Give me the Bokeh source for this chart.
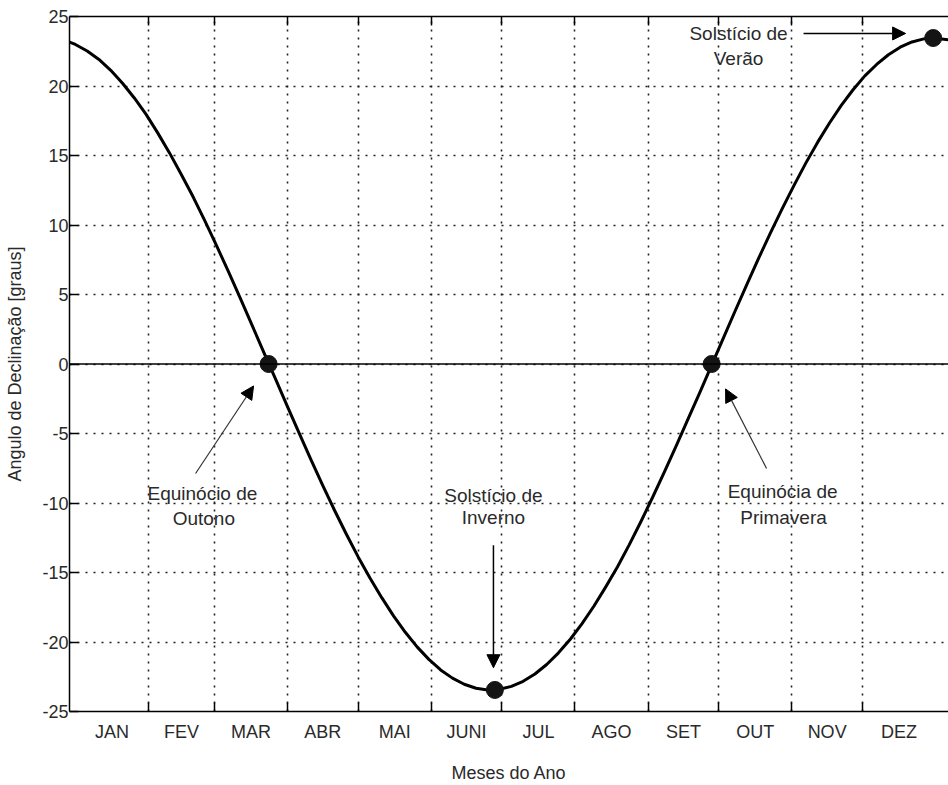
from bokeh.plotting import figure
from bokeh.models import FixedTicker, LinearAxis, Arrow, NormalHead, Span, Range1d
from bokeh.core.properties import value
from bokeh.embed import file_html
from bokeh.resources import INLINE

# ---------------- data ----------------
months = ["JAN", "FEV", "MAR", "ABR", "MAI", "JUNI", "JUL", "AGO", "SET", "OUT", "NOV", "DEZ"]
month_days = [31, 28, 31, 30, 31, 30, 31, 31, 30, 31, 30, 31]

# declination curve (day of year, degrees)
curve_day = [-2.5, 0, 5, 10, 15, 20, 25, 30, 35, 40, 45, 50, 55, 60, 65, 70, 75, 80, 85, 90,
             95, 100, 105, 110, 115, 120, 125, 130, 135, 140, 145, 150, 155, 160, 165, 170,
             175, 180, 185, 190, 195, 200, 205, 210, 215, 220, 225, 230, 235, 240, 245, 250,
             255, 260, 265, 270, 275, 280, 285, 290, 295, 300, 305, 310, 315, 320, 325, 330,
             335, 340, 345, 350, 355, 360, 364, 370.5]
curve_decl = [23.16, 22.99, 22.52, 21.91, 21.13, 20.20, 19.14, 17.96, 16.61, 15.17, 13.62,
              12.01, 10.28, 8.48, 6.62, 4.72, 2.78, 0.82, -1.10, -3.06, -4.99, -6.89, -8.75,
              -10.54, -12.25, -13.88, -15.39, -16.81, -18.12, -19.30, -20.35, -21.25, -22.01,
              -22.60, -23.04, -23.33, -23.45, -23.40, -23.19, -22.83, -22.30, -21.62, -20.78,
              -19.80, -18.68, -17.43, -16.05, -14.60, -13.01, -11.33, -9.57, -7.75, -5.87,
              -3.95, -2.04, -0.08, 1.88, 3.83, 5.75, 7.63, 9.46, 11.19, 12.87, 14.47, 15.96,
              17.34, 18.60, 19.73, 20.73, 21.55, 22.25, 22.79, 23.17, 23.39, 23.45, 23.32]

# marked points: equinoxes and solstices
mark_day = [82, 178, 270, 364]
mark_decl = [0.0, -23.45, 0.0, 23.45]

y_ticks = [-25, -20, -15, -10, -5, 0, 5, 10, 15, 20, 25]

FONT = "Liberation Sans"
TXT = "#2a2a2a"

# month boundaries and centres
starts = [sum(month_days[:i]) for i in range(12)]
boundaries = starts[1:]
centers = [s + d / 2 for s, d in zip(starts, month_days)]

p = figure(width=948, height=785, output_backend="svg", toolbar_location=None,
           x_range=Range1d(-2.5, 370.5), y_range=Range1d(-25, 25),
           min_border_left=69, min_border_right=0, min_border_top=16, min_border_bottom=71,
           x_axis_location=None, y_axis_location=None)
p.outline_line_color = None
p.background_fill_color = "white"
p.border_fill_color = "white"

xb = LinearAxis(ticker=FixedTicker(ticks=centers, minor_ticks=boundaries),
                axis_label="Meses do Ano")
xb.major_label_overrides = {c: m for c, m in zip(centers, months)}
xb.major_tick_in = 0
xb.major_tick_out = 0
xb.minor_tick_in = 9
xb.minor_tick_out = 0
xb.minor_tick_line_width = 1.5
xb.axis_line_width = 1.5
xb.major_label_standoff = 10
xb.axis_label_standoff = 18
xb.major_label_text_font = FONT
xb.major_label_text_font_size = "18px"
xb.major_label_text_color = TXT
xb.axis_label_text_font = FONT
xb.axis_label_text_font_size = "18px"
xb.axis_label_text_font_style = "normal"
xb.axis_label_text_color = TXT
p.add_layout(xb, "below")

# top border with inward month ticks (no labels)
xa = LinearAxis(ticker=FixedTicker(ticks=[], minor_ticks=boundaries))
xa.major_tick_in = 0
xa.major_tick_out = 0
xa.minor_tick_in = 9
xa.minor_tick_out = 0
xa.minor_tick_line_width = 1.5
xa.axis_line_width = 1.5
xa.major_label_standoff = 0
p.add_layout(xa, "above")

yl = LinearAxis(ticker=FixedTicker(ticks=y_ticks), axis_label="Angulo de Declinação [graus]")
yl.major_label_overrides = {t: str(t) for t in y_ticks}
yl.major_tick_in = 9
yl.major_tick_out = 0
yl.major_tick_line_width = 1.5
yl.minor_tick_in = 0
yl.minor_tick_out = 0
yl.axis_line_width = 1.5
yl.major_label_standoff = 1
yl.axis_label_standoff = 14
yl.major_label_text_font = FONT
yl.major_label_text_font_size = "18px"
yl.major_label_text_color = TXT
yl.axis_label_text_font = FONT
yl.axis_label_text_font_size = "18px"
yl.axis_label_text_font_style = "normal"
yl.axis_label_text_color = TXT
p.add_layout(yl, "left")

# grids
p.xgrid.ticker = FixedTicker(ticks=boundaries)
p.ygrid.ticker = FixedTicker(ticks=y_ticks)
for g in [p.xgrid, p.ygrid]:
    g.grid_line_color = "#222222"
    g.grid_line_dash = "2 6"
    g.grid_line_width = 1.6

p.add_layout(Span(location=0, dimension="width", line_color="black", line_width=1.6))

# curve and markers
p.line(curve_day, curve_decl, line_color="black", line_width=3, line_join="round")
p.scatter(mark_day, mark_decl, size=17, fill_color="#141414", line_color="#141414")

# annotations
ann_text = ["Solstício de", "Verão", "Equinócio de", "Outono", "Solstício de", "Inverno",
            "Equinócia de", "Primavera"]
ann_x = [281.4, 281.4, 53.9, 54.5, 177.4, 177.4, 300.1, 300.5]
ann_y = [23.78, 21.95, -9.31, -11.1, -9.46, -11.05, -9.17, -11.05]
p.text(ann_x, ann_y, text=ann_text, text_font=value(FONT), text_font_size="19px",
       text_align="center", text_baseline="middle", text_color=TXT)

arrows = [
    (309.0, 23.78, 352.3, 23.78, 1.5, "black"),
    (51.0, -7.88, 75.6, -1.58, 1.2, "#333333"),
    (177.4, -13.04, 177.4, -21.85, 1.5, "black"),
    (293.3, -7.52, 275.9, -1.79, 1.2, "#333333"),
]
for xs, ys, xe, ye, lw, col in arrows:
    p.add_layout(Arrow(end=NormalHead(size=13, fill_color="black", line_color="black"),
                       x_start=xs, y_start=ys, x_end=xe, y_end=ye,
                       line_width=lw, line_color=col))

open("out.html", "w").write(file_html(p, INLINE))
